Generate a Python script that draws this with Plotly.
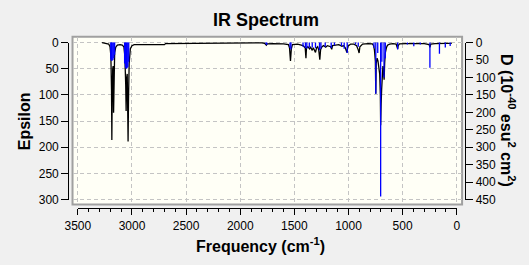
import plotly.graph_objects as go

W, H = 529, 265

# ---- data ----
spec_freq = [3276, 3240, 3215, 3203, 3195, 3189, 3186, 3183, 3178, 3174, 3170, 3166, 3160, 3150,
             3135, 3110, 3090, 3075, 3066, 3058, 3054, 3050, 3044, 3040, 3036, 3032, 3026, 3015,
             3000, 2980, 2700, 2690, 2300, 2020, 1800, 1775, 1765, 1759, 1752, 1700, 1600, 1555,
             1545, 1536, 1528, 1518, 1470, 1440, 1420, 1410, 1400, 1393, 1388, 1375, 1360, 1350,
             1335, 1325, 1305, 1295, 1285, 1275, 1265, 1258, 1245, 1230, 1210, 1195, 1165, 1155,
             1148, 1120, 1090, 1060, 1045, 1030, 1015, 1005, 980, 950, 925, 910, 902, 895, 870,
             820, 780, 768, 760, 752, 748, 744, 736, 728, 720, 712, 706, 703, 699, 694, 688, 682,
             676, 671, 666, 660, 650, 640, 620, 590, 560, 550, 546, 541, 530, 470, 300, 255, 248,
             240, 200, 100, 46]
spec_eps = [0, 1.5, 3, 8, 25, 90, 186, 110, 50, 45, 134, 60, 20, 9,
            5, 4, 5, 8, 25, 80, 131, 70, 60, 120, 189, 110, 40, 12,
            6, 4, 4, 2, 1.5, 0.3, 0.5, 1.5, 3, 5, 2.5, 2, 2.5, 4,
            10, 35, 12, 4, 3, 4, 6, 8, 10, 30, 10, 8, 12, 9,
            15, 10, 19, 10, 8, 14, 33, 14, 8, 6, 9, 6, 8, 13,
            6, 5, 4, 7, 6, 10, 19, 7, 3, 3, 6, 14, 20, 8, 3,
            2, 2.5, 6, 15, 35, 98, 40, 30, 35, 45, 60, 100, 158, 120, 90, 60, 45,
            55, 71, 40, 20, 10, 5, 3, 2, 3, 8, 12, 6, 2.5, 2, 2, 4, 9,
            3, 2, 1.5, 1.5]

stick_freq = [3196, 3190, 3184, 3176, 3168, 3160,
              3068, 3060, 3052, 3045, 3038, 3030,
              1762, 1755,
              1540, 1532,
              1420, 1398, 1385, 1362,
              1335, 1305, 1268, 1255,
              1215, 1160, 1130,
              1065, 1040, 1012,
              935, 910,
              765, 748, 730, 703, 692, 672, 660,
              546, 456, 397, 337, 248, 160, 106, 61]
stick_D = [48, 52, 52, 50, 45, 35,
           60, 72, 75, 74, 70, 55,
           5, 7,
           16, 20,
           12, 16, 18, 14,
           14, 16, 22, 18,
           12, 16, 8,
           10, 18, 30,
           6, 12,
           15, 147, 30, 441, 55, 100, 45,
           20, 6, 11, 6, 72, 32, 14, 10]

x_ticks = [3500, 3000, 2500, 2000, 1500, 1000, 500, 0]
eps_ticks = [0, 50, 100, 150, 200, 250, 300]
d_ticks = [0, 50, 100, 150, 200, 250, 300, 350, 400, 450]

# ---- layout geometry (pixels) ----
frame_l, frame_r, frame_t, frame_b = 61.5, 464.0, 31.5, 208.5
ax_l, ax_r = 67.0, 458.5          # x = 3500 .. 0
ax_t, ax_b = 37.5, 203.3          # eps = 0 .. 300
xs = (ax_r - ax_l) / 3500.0
ys = (ax_b - ax_t) / 300.0


def px(x):
    return x / W


def py(y):
    return 1 - y / H


x_rng = [3500 + (ax_l - frame_l) / xs, 0 - (frame_r - ax_r) / xs]
y_rng = [300 + (frame_b - ax_b) / ys, 0 - (ax_t - frame_t) / ys]
y2_rng = [v * 1.5 for v in y_rng]

# sticks
sx, sy = [], []
for f, d in zip(stick_freq, stick_D):
    sx += [f, f, None]
    sy += [0, d, None]

fig = go.Figure()
fig.add_trace(go.Scatter(x=sx, y=sy, mode="lines", line=dict(color="#0000FF", width=1.3),
                         yaxis="y2", showlegend=False, hoverinfo="skip"))
fig.add_trace(go.Scatter(x=spec_freq, y=spec_eps, mode="lines", line=dict(color="#000000", width=1.3),
                         showlegend=False, hoverinfo="skip"))
# empty traces to carry the tick axes
fig.add_trace(go.Scatter(x=[], y=[], xaxis="x2", yaxis="y3", showlegend=False, hoverinfo="skip"))
fig.add_trace(go.Scatter(x=[], y=[], xaxis="x2", yaxis="y4", showlegend=False, hoverinfo="skip"))

tickfont = dict(family="Liberation Sans, Arial, sans-serif", size=12, color="#000000")
grid = dict(showgrid=True, gridcolor="#C4C4C4", gridwidth=1, griddash="4px,3px")

fig.update_layout(
    width=W, height=H, margin=dict(l=0, r=0, t=0, b=0),
    paper_bgcolor="#F0F0F0", plot_bgcolor="rgba(0,0,0,0)",
    xaxis=dict(domain=[px(frame_l), px(frame_r)], range=x_rng, tickmode="array", tickvals=x_ticks,
               showticklabels=False, ticks="", zeroline=False, showline=False, **grid),
    yaxis=dict(domain=[py(frame_b), py(frame_t)], range=y_rng, tickmode="array", tickvals=eps_ticks,
               showticklabels=False, ticks="", zeroline=False, showline=False, **grid),
    yaxis2=dict(overlaying="y", side="right", range=y2_rng, showgrid=False, showticklabels=False,
                ticks="", zeroline=False, showline=False),
    xaxis2=dict(domain=[px(ax_l), px(ax_r)], range=[3500, 0], anchor="free", position=py(212.7),
                tickmode="array", tickvals=x_ticks, ticks="outside", ticklen=6, tickcolor="#000000",
                showline=True, linecolor="#000000", linewidth=1, showgrid=False, zeroline=False,
                tickfont=tickfont,
                minor=dict(ticks="outside", ticklen=3, dtick=100, tick0=0, tickcolor="#000000",
                           showgrid=False)),
    yaxis3=dict(domain=[py(ax_b), py(ax_t)], range=[300, 0], anchor="free", position=px(57),
                tickmode="array", tickvals=eps_ticks, ticks="outside", ticklen=7, tickcolor="#000000",
                showline=True, linecolor="#000000", linewidth=1, showgrid=False, zeroline=False,
                tickfont=tickfont),
    yaxis4=dict(overlaying="y3", side="right", range=[450, 0], anchor="free", position=px(467.3),
                tickmode="array", tickvals=d_ticks, ticks="outside", ticklen=7, tickcolor="#000000",
                showline=True, linecolor="#000000", linewidth=1, showgrid=False, zeroline=False,
                tickfont=tickfont),
    shapes=[dict(type="rect", xref="paper", yref="paper", x0=px(frame_l), x1=px(frame_r),
                 y0=py(frame_b), y1=py(frame_t), fillcolor="#FFFFF6",
                 line=dict(color="#A0A0A0", width=2), layer="below")],
)

tfont = dict(family="Liberation Sans, Arial, sans-serif", color="#000000")
fig.add_annotation(text="<b>IR Spectrum</b>", x=px(261), y=py(14), xref="paper", yref="paper",
                   showarrow=False, xanchor="center", yanchor="middle", font=dict(size=18, **tfont))
fig.add_annotation(text="<b>Frequency (cm<sup>-1</sup>)</b>", x=px(256), y=py(251), xref="paper",
                   yref="paper", showarrow=False, xanchor="center", yanchor="middle",
                   font=dict(size=16, **tfont))
fig.add_annotation(text="<b>Epsilon</b>", x=px(12), y=py(121), xref="paper", yref="paper",
                   showarrow=False, xanchor="center", yanchor="middle", textangle=-90,
                   font=dict(size=16, **tfont))
fig.add_annotation(text="<b>D (10<sup>-40</sup> esu<sup>2</sup> cm<sup>2</sup>)</b>", x=px(512),
                   y=py(120), xref="paper", yref="paper", showarrow=False, xanchor="center",
                   yanchor="middle", textangle=90, font=dict(size=16, **tfont))

fig.write_html("out.html")
